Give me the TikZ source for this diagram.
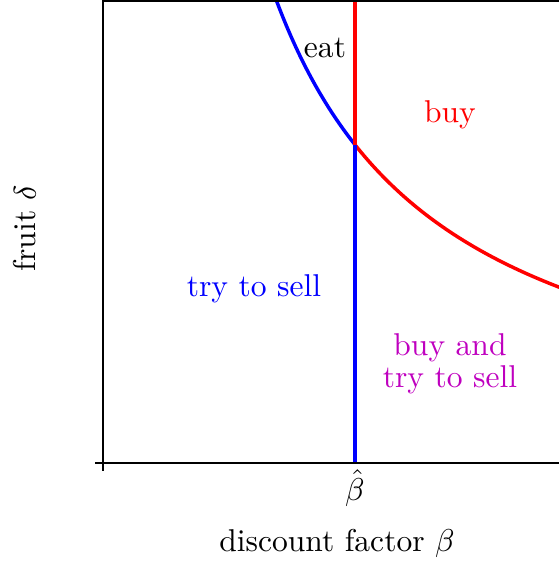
\documentclass[tikz,border=0pt]{standalone}
\definecolor{mymag}{rgb}{0.75,0,0.75}
\begin{document}
\begin{tikzpicture}[x=0.317pt,y=-0.317pt,
  axisline/.style={line width=0.6pt,black},
  curveline/.style={line width=1.1pt},
  lbl/.style={inner sep=0pt,align=center}]
\useasboundingbox (0,0) rectangle (559,562);
\coordinate (O) at (103,463);
\coordinate (TL) at (103,1);
\coordinate (TR) at (559,1);
\coordinate (BR) at (559,463);
\coordinate (X) at (355,144.75);
\coordinate (Xtop) at (355,0);
\coordinate (Xbot) at (355,463);
\begin{scope}
\clip (103,0) rectangle (559,463);
\draw[curveline,blue] plot[domain=170:252,samples=80] ({103+\x},{463-100*(802/\x)});
\draw[curveline,red] plot[domain=252:460,samples=80] ({103+\x},{463-100*(802/\x)});
\draw[curveline,red] (Xtop) -- (X);
\draw[curveline,blue] (X) -- (Xbot);
\end{scope}
\draw[axisline] (BR) -- (O) -- (TL) -- (TR);
\draw[axisline] (O) -- ++(-8,0);
\draw[axisline] (O) -- ++(0,8);
\node[lbl] (eat) at (325,48) {eat};
\node[lbl,text=red] (buy) at (450,115) {buy};
\node[lbl,text=blue] (sell) at (254,289) {try to sell};
\node[lbl,text=mymag] (buysell) at (450,364) {buy and\\[-2pt]try to sell};
\node[lbl] (bh) at (355,488) {$\hat{\beta}$};
\node[lbl,rotate=90] (ylab) at (25,228) {fruit $\delta$};
\node[lbl] (xlab) at (337,543) {discount factor $\beta$};
\end{tikzpicture}
\end{document}
